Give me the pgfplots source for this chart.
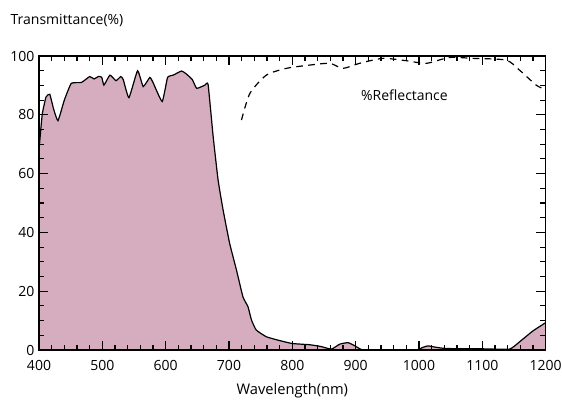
\documentclass[border=0pt]{standalone}
\usepackage{pgfplots}
\pgfplotsset{compat=1.18}
\usepackage{fontspec}
\setmainfont{Open Sans}
\definecolor{fillc}{RGB}{213,173,191}
\begin{document}
\begin{tikzpicture}
\useasboundingbox (-29.25pt,-37.5pt) rectangle (392.25pt,262.5pt);
\begin{axis}[
  scale only axis, width=380pt, height=220.5pt,
  xmin=400, xmax=1200, ymin=0, ymax=100,
  xtick={400,500,...,1200}, ytick={0,20,...,100},
  minor x tick num=4, minor y tick num=3,
  tick align=inside,
  major tick length=7pt, minor tick length=4pt,
  every tick/.style={black, line width=0.8pt},
  axis line style={line width=1pt},
  /pgf/number format/assume math mode=true,
  /pgf/number format/1000 sep={},
  tick label style={font=\fontsize{10.5}{12}\selectfont},
  xticklabel style={yshift=-4.5pt},
  yticklabel style={xshift=0pt},
  every axis y label/.style={at={(axis description cs:-0.0652,1.1224)}, anchor=west, font=\fontsize{10.5}{12}\selectfont},
  ylabel={Transmittance(\%)},
  every axis x label/.style={at={(axis description cs:0.5,0)}, yshift=-30.5pt, anchor=center, font=\fontsize{11}{13}\selectfont},
  xlabel={Wavelength(nm)},
  clip=true,
  axis on top,
]
\addplot[fill=fillc, draw=black, line width=0.9pt, smooth, tension=0.25] coordinates {
(400,68) (405,80) (411,86) (417,87) (423,82) (430,78) (440,85) (451,90.7) (467,91) (480,93) (487,92.2) (493.5,93) (499,92.8) (502.5,90.1) (512,93.5) (521.5,91.6) (529,93) (533,92) (542,85.8) (555.6,95) (564.5,89.6) (575,92.7) (580,91) (594.5,84.5) (603,92.7) (612,93.5) (625,94.9) (632,94) (642,92) (649,89) (662,90.1) (667,90.3)
(675,72.6) (682.8,57.8) (690.7,47.6) (701,36.3) (711.8,27.2) (722,18.1) (730,14.7) (735.5,10.2) (743,6.8) (759,4.5) (780,3.2) (800,2.2) (827,1.8) (845,1.2) (861.7,0.3) (875,2) (888,2.5) (898,1.5) (911.5,0) (950,0) (996,0) (1005,0.8) (1014,1.4) (1025,1.0) (1037.7,0.6) (1060,0.4) (1100,0.4) (1143,0.3) (1160,3.0) (1180,6.5) (1200,9.3)
} \closedcycle;
\addplot[black, line width=0.9pt, dash pattern=on 5pt off 4pt, smooth, tension=0.4] coordinates {
(719.7,78.2) (733,87.3) (759,93.5) (790.6,95.8) (827,96.9) (859,97.5) (880,95.8) (906,97.5) (943,99.2) (980,98.4) (1011.5,97.5) (1048,99.5) (1085,99.2) (1137.6,98.6) (1158.7,95.2) (1185,90.1) (1200,88.5)
};
\node[font=\fontsize{10.5}{12}\selectfont] at (axis cs:977,86.7) {\%Reflectance};
\end{axis}
\end{tikzpicture}
\end{document}
